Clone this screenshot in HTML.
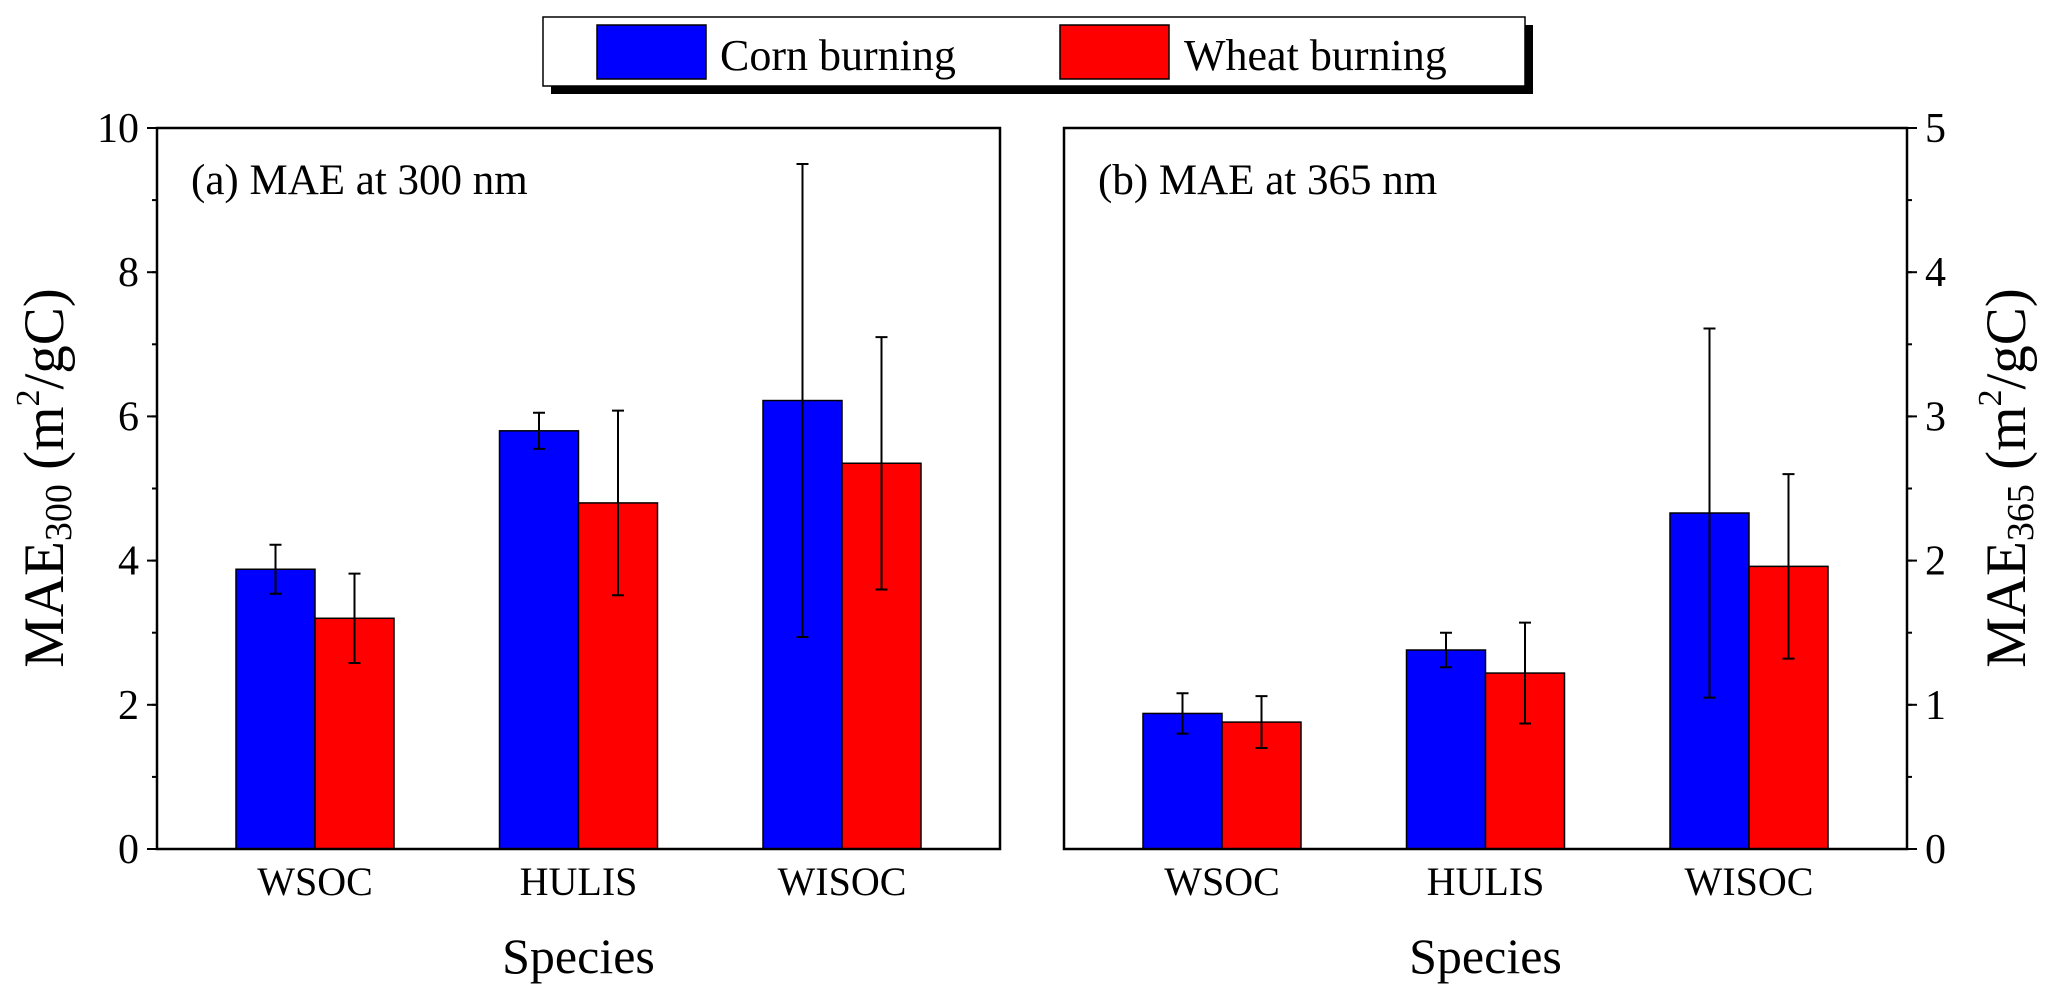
<!DOCTYPE html>
<html><head><meta charset="utf-8"><style>
html,body{margin:0;padding:0;background:#fff;}
svg{display:block;font-family:"Liberation Serif",serif;}
</style></head><body>
<svg id="chart" width="2067" height="1002" viewBox="0 0 2067 1002" xmlns="http://www.w3.org/2000/svg">
<g>
<rect x="551" y="25" width="982" height="69" fill="#000"/>
<rect x="543" y="17" width="982" height="69" fill="#fff" stroke="#000" stroke-width="1.5"/>
<rect x="597" y="25" width="109" height="54" fill="#0000ff" stroke="#000" stroke-width="1.5"/>
<text x="720" y="70" font-size="44">Corn burning</text>
<rect x="1060" y="25" width="109" height="54" fill="#ff0000" stroke="#000" stroke-width="1.5"/>
<text x="1184" y="70" font-size="44">Wheat burning</text>
</g>
<g id="marks"></g>
</svg>
<script>
const categories = ["WSOC","HULIS","WISOC"];
const cornA = [3.88, 5.80, 6.22];
const cornAErr = [0.34, 0.25, 3.28];
const wheatA = [3.20, 4.80, 5.35];
const wheatAErr = [0.62, 1.28, 1.75];
const cornB = [0.94, 1.38, 2.33];
const cornBErr = [0.14, 0.12, 1.28];
const wheatB = [0.88, 1.22, 1.96];
const wheatBErr = [0.18, 0.35, 0.64];
const ticksA = [0,2,4,6,8,10];
const ticksB = [0,1,2,3,4,5];

const NS = "http://www.w3.org/2000/svg";
const marksRoot = document.getElementById("marks");
function mk(tag, attrs, parent, text){
  const e = document.createElementNS(NS, tag);
  for (const k in attrs) e.setAttribute(k, attrs[k]);
  if (text !== undefined) e.textContent = text;
  (parent||marksRoot).appendChild(e);
  return e;
}
const plotTop = 128, plotBot = 849;

function panel(px0, px1, ymax, ticks, minorStep, corn, cornErr, wheat, wheatErr, side, title, sub, key){
  const g = mk("g", {});
  
  
  const y = v => plotBot - v / ymax * (plotBot - plotTop);
  const xc = i => px0 + 158 + i * 263.5;
  const bw = 79;
  for (let i = 0; i < categories.length; i++) {
    const b1 = mk("rect", {x: xc(i) - bw, y: y(corn[i]), width: bw, height: plotBot - y(corn[i]), fill: "#0000ff", stroke: "#000", "stroke-width": 1.5}, g);
    
    
    const b2 = mk("rect", {x: xc(i), y: y(wheat[i]), width: bw, height: plotBot - y(wheat[i]), fill: "#ff0000", stroke: "#000", "stroke-width": 1.5}, g);
    
    
    [[xc(i) - bw/2, corn[i], cornErr[i], 'corn'], [xc(i) + bw/2, wheat[i], wheatErr[i], 'wheat']].forEach(([cx, v, e, s]) => {
      const eb = mk("path", {d: `M${cx},${y(v+e)}V${y(v-e)}M${cx-6},${y(v+e)}H${cx+6}M${cx-6},${y(v-e)}H${cx+6}`, stroke: "#000", "stroke-width": 2, fill: "none"}, g);
      
      
    });
    const cl = mk("text", {x: xc(i), y: 895, "font-size": 40, "text-anchor": "middle"}, g, categories[i]);
    
    
  }
  const fr = mk("rect", {x: px0, y: plotTop, width: px1 - px0, height: plotBot - plotTop, fill: "none", stroke: "#000", "stroke-width": 2.5}, g);
  
  
  const ax = side === "left" ? px0 : px1;
  const dir = side === "left" ? -1 : 1;
  for (let v = 0; v <= ymax + 1e-9; v += minorStep) {
    const t = mk("line", {x1: ax, x2: ax + dir * 5, y1: y(v), y2: y(v), stroke: "#000", "stroke-width": 2}, g);
    
    
  }
  ticks.forEach(v => {
    const t = mk("line", {x1: ax, x2: ax + dir * 10, y1: y(v), y2: y(v), stroke: "#000", "stroke-width": 2}, g);
    
    
    const l = mk("text", {x: side === "left" ? ax - 18 : ax + 18, y: y(v) + 14, "font-size": 42, "text-anchor": side === "left" ? "end" : "start"}, g, String(v));
    
    
  });
  const tt = mk("text", {x: px0 + 34, y: 194, "font-size": 43}, g, title);
  
  
  const xt = mk("text", {x: (px0 + px1) / 2, y: 973, "font-size": 50, "text-anchor": "middle"}, g, "Species");
  
  
  const lx = side === "left" ? 63 : 2025;
  const yt = mk("text", {transform: `translate(${lx},478) rotate(-90)`, "font-size": 57, "text-anchor": "middle"}, g);
  
  
  mk("tspan", {}, yt, "MAE");
  mk("tspan", {"font-size": 38, dy: 8}, yt, sub);
  mk("tspan", {dy: -8}, yt, " (m");
  mk("tspan", {"font-size": 34, dy: -24}, yt, "2");
  mk("tspan", {dy: 24}, yt, "/gC)");
}
panel(157, 1000, 10, ticksA, 1, cornA, cornAErr, wheatA, wheatAErr, "left", "(a) MAE at 300 nm", "300", "a");
panel(1064, 1907, 5, ticksB, 0.5, cornB, cornBErr, wheatB, wheatBErr, "right", "(b) MAE at 365 nm", "365", "b");
</script>
</body></html>
